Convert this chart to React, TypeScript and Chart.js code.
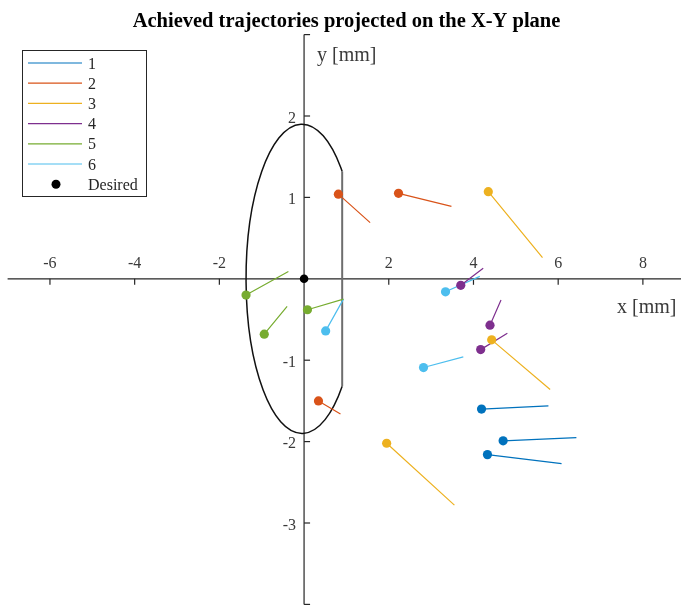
import React, { useEffect, useRef } from "react";
import { Chart, registerables } from "chart.js";

Chart.register(...registerables);

// Axis limits and ticks (the x axis runs past the right edge of the figure)
const xMin = -7;
const xMax = 8.9;
const yMin = -4;
const yMax = 3;
const xTickValues = [-6, -4, -2, 2, 4, 6, 8];
const yTickMarks = [-4, -3, -2, -1, 1, 2, 3];
const yTickLabels = [-3, -2, -1, 1, 2];

// Series labels and colours
const seriesLabels = ["1", "2", "3", "4", "5", "6"];
const seriesColors = ["#0072BD", "#D95319", "#EDB120", "#7E2F8E", "#77AC30", "#4DBEEE"];

// Trajectory start points (dot) and end points, per series: [x, y] in mm
const traj1Start = [[4.19, -1.6], [4.7, -1.99], [4.33, -2.16]];
const traj1End = [[5.77, -1.56], [6.43, -1.95], [6.08, -2.27]];
const traj2Start = [[0.81, 1.04], [2.23, 1.05], [0.34, -1.5]];
const traj2End = [[1.56, 0.69], [3.48, 0.89], [0.86, -1.66]];
const traj3Start = [[4.35, 1.07], [4.43, -0.75], [1.95, -2.02]];
const traj3End = [[5.63, 0.26], [5.81, -1.36], [3.55, -2.78]];
const traj4Start = [[3.7, -0.08], [4.39, -0.57], [4.17, -0.87]];
const traj4End = [[4.23, 0.13], [4.65, -0.26], [4.8, -0.67]];
const traj5Start = [[-1.37, -0.2], [-0.94, -0.68], [0.08, -0.38]];
const traj5End = [[-0.37, 0.09], [-0.4, -0.34], [0.93, -0.25]];
const traj6Start = [[0.51, -0.64], [3.34, -0.16], [2.82, -1.09]];
const traj6End = [[0.93, -0.25], [4.15, 0.03], [3.76, -0.96]];

const trajStarts = [traj1Start, traj2Start, traj3Start, traj4Start, traj5Start, traj6Start];
const trajEnds = [traj1End, traj2End, traj3End, traj4End, traj5End, traj6End];

// Desired position
const desiredX = [0];
const desiredY = [0];

// Workspace boundary: ellipse cut by a vertical line
const boundaryCenterX = -0.05;
const boundarySemiX = 1.32;
const boundarySemiY = 1.9;
const boundaryCutX = 0.9;

const SERIF = '"Liberation Serif", "Times New Roman", serif';
const AXIS_COLOR = "#262626";
const TICK_TEXT = "#3a3a3a";

const CANVAS_W = 681;
const CANVAS_H = 606;

function buildSegments(starts: number[][], ends: number[][]) {
  const pts: { x: number; y: number }[] = [];
  starts.forEach((s, i) => {
    pts.push({ x: s[0], y: s[1] });
    pts.push({ x: ends[i][0], y: ends[i][1] });
    pts.push({ x: NaN, y: NaN });
  });
  return pts;
}

const overlayPlugin = {
  id: "overlay",
  beforeDatasetsDraw(chart: any) {
    const { ctx } = chart;
    const xs = chart.scales.x;
    const ys = chart.scales.y;
    const area = chart.chartArea;
    const x0 = xs.getPixelForValue(0);
    const y0 = ys.getPixelForValue(0);

    ctx.save();
    // axes through the origin
    ctx.strokeStyle = AXIS_COLOR;
    ctx.lineWidth = 1.2;
    ctx.beginPath();
    ctx.moveTo(area.left, y0);
    ctx.lineTo(area.right, y0);
    ctx.moveTo(x0, area.top);
    ctx.lineTo(x0, area.bottom);
    ctx.stroke();

    // x ticks (below the axis) and labels (above)
    ctx.font = `16px ${SERIF}`;
    ctx.fillStyle = TICK_TEXT;
    ctx.textAlign = "center";
    ctx.textBaseline = "alphabetic";
    xTickValues.forEach((v) => {
      const px = xs.getPixelForValue(v);
      ctx.beginPath();
      ctx.moveTo(px, y0);
      ctx.lineTo(px, y0 + 6);
      ctx.stroke();
      ctx.fillText(String(v), px, y0 - 11);
    });

    // y ticks (right of the axis) and labels (left)
    yTickMarks.forEach((v) => {
      const py = ys.getPixelForValue(v);
      ctx.beginPath();
      ctx.moveTo(x0, py);
      ctx.lineTo(x0 + 6, py);
      ctx.stroke();
    });
    ctx.textAlign = "right";
    yTickLabels.forEach((v) => {
      const py = ys.getPixelForValue(v);
      ctx.fillText(String(v), x0 - 8, py + 6.5);
    });

    // axis labels
    ctx.font = `20px ${SERIF}`;
    ctx.textAlign = "left";
    ctx.fillText("y [mm]", x0 + 13, 61);
    ctx.fillText("x [mm]", 617, 313);

    // workspace boundary
    const cx = xs.getPixelForValue(boundaryCenterX);
    const cy = y0;
    const rx = xs.getPixelForValue(boundaryCenterX + boundarySemiX) - cx;
    const ry = cy - ys.getPixelForValue(boundarySemiY);
    const theta = Math.acos((boundaryCutX - boundaryCenterX) / boundarySemiX);
    ctx.strokeStyle = "#111111";
    ctx.lineWidth = 1.5;
    ctx.beginPath();
    ctx.ellipse(cx, cy, rx, ry, 0, theta, 2 * Math.PI - theta);
    ctx.stroke();
    const cutPx = xs.getPixelForValue(boundaryCutX);
    ctx.strokeStyle = "#6e6e6e";
    ctx.lineWidth = 2;
    ctx.beginPath();
    ctx.moveTo(cutPx, cy - ry * Math.sin(theta));
    ctx.lineTo(cutPx, cy + ry * Math.sin(theta));
    ctx.stroke();
    ctx.restore();
  },
  afterDraw(chart: any) {
    const { ctx } = chart;
    ctx.save();
    // title
    ctx.font = `bold 20.5px ${SERIF}`;
    ctx.fillStyle = "#000000";
    ctx.textAlign = "center";
    ctx.textBaseline = "alphabetic";
    ctx.fillText("Achieved trajectories projected on the X-Y plane", 346.5, 27);

    // legend
    const boxL = 22.5, boxT = 50.5, boxW = 124, boxH = 146;
    ctx.fillStyle = "#ffffff";
    ctx.fillRect(boxL, boxT, boxW, boxH);
    ctx.strokeStyle = "#262626";
    ctx.lineWidth = 1;
    ctx.strokeRect(boxL, boxT, boxW, boxH);
    ctx.font = `16px ${SERIF}`;
    ctx.textAlign = "left";
    const rowStart = 63;
    const rowStep = 20.2;
    chart.data.datasets.forEach((ds: any, i: number) => {
      const ry = rowStart + i * rowStep;
      if (ds.showLine) {
        ctx.strokeStyle = ds.borderColor;
        ctx.lineWidth = 1.2;
        ctx.beginPath();
        ctx.moveTo(28, ry);
        ctx.lineTo(82, ry);
        ctx.stroke();
      } else {
        ctx.fillStyle = ds.pointBackgroundColor;
        ctx.beginPath();
        ctx.arc(56, ry, 4.5, 0, Math.PI * 2);
        ctx.fill();
      }
      ctx.fillStyle = "#262626";
      ctx.fillText(ds.label, 88, ry + 5.5);
    });
    ctx.restore();
  },
};

export default function App() {
  const canvasRef = useRef<HTMLCanvasElement | null>(null);

  useEffect(() => {
    const canvas = canvasRef.current;
    if (!canvas) return;

    const datasets: any[] = seriesLabels.map((label, i) => ({
      label,
      data: buildSegments(trajStarts[i], trajEnds[i]),
      showLine: true,
      spanGaps: false,
      borderColor: seriesColors[i],
      borderWidth: 1.2,
      pointBackgroundColor: seriesColors[i],
      pointBorderWidth: 0,
      pointRadius: (c: any) => (c.dataIndex % 3 === 0 ? 4.6 : 0),
      pointHoverRadius: 0,
    }));
    datasets.push({
      label: "Desired",
      data: desiredX.map((x, i) => ({ x, y: desiredY[i] })),
      showLine: false,
      pointBackgroundColor: "#000000",
      pointBorderWidth: 0,
      pointRadius: 4.3,
    });

    const chart = new Chart(canvas, {
      type: "scatter",
      data: { datasets },
      options: {
        animation: false,
        responsive: false,
        maintainAspectRatio: false,
        devicePixelRatio: 1,
        layout: {
          autoPadding: false,
          padding: { left: 7.6, right: 0, top: 34.6, bottom: 1.6 },
        },
        scales: {
          x: { type: "linear", min: xMin, max: xMax, display: false },
          y: { type: "linear", min: yMin, max: yMax, display: false },
        },
        plugins: {
          legend: { display: false },
          title: { display: false },
          tooltip: { enabled: false },
        },
        events: [],
      },
      plugins: [overlayPlugin],
    });

    return () => chart.destroy();
  }, []);

  return (
    <div
      style={{
        position: "fixed",
        left: 0,
        top: 0,
        width: CANVAS_W,
        height: CANVAS_H,
        overflow: "hidden",
        background: "#ffffff",
      }}
    >
      <canvas
        ref={canvasRef}
        width={CANVAS_W}
        height={CANVAS_H}
        style={{ display: "block", width: CANVAS_W, height: CANVAS_H }}
      />
    </div>
  );
}
